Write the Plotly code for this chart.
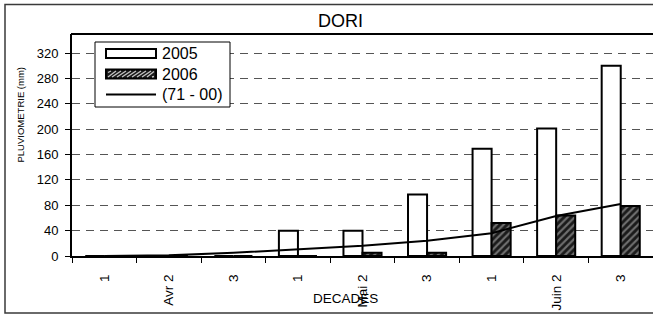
import plotly.graph_objects as go

# ---- data ----
decades = ["1", "Avr 2", "3", "1", "Mai 2", "3", "1", "Juin 2", "3"]
pluie_2005 = [0, 0, 0, 40, 40, 97, 169, 201, 300]
pluie_2006 = [0, 0, 0, 0, 5, 5, 52, 64, 79]
normale_71_00 = [0, 1, 5, 10, 16, 24, 36, 63, 82]
y_ticks = [0, 40, 80, 120, 160, 200, 240, 280, 320]

W, H = 653, 315
L, R, T, B = 72, 0, 34, 59
PW, PH = W - L - R, H - T - B
FONT = "Liberation Sans, Arial, sans-serif"

def px(x):
    return (x - L) / PW

def py(y):
    return (H - B - y) / PH

xpos = list(range(len(decades)))

fig = go.Figure()
fig.add_trace(go.Bar(
    x=xpos, y=pluie_2005, name="2005",
    marker=dict(color="white", line=dict(color="black", width=2)),
    showlegend=False,
))
fig.add_trace(go.Bar(
    x=xpos, y=pluie_2006, name="2006",
    marker=dict(color="#1a1a1a", line=dict(color="black", width=2),
                pattern=dict(shape="/", fgcolor="#c4c4c4", bgcolor="#1a1a1a",
                             size=5, solidity=0.42)),
    showlegend=False,
))
fig.add_trace(go.Scatter(
    x=xpos, y=normale_71_00, name="(71 - 00)", mode="lines",
    line=dict(color="black", width=2), showlegend=False,
))

shapes = []
# outer border
shapes.append(dict(type="rect", xref="paper", yref="paper",
                   x0=px(5), x1=px(W + 5), y0=py(313), y1=py(4.5),
                   line=dict(color="#3a3a3a", width=1.5), fillcolor="rgba(0,0,0,0)",
                   layer="above"))
# plot area top border
shapes.append(dict(type="line", xref="paper", yref="paper",
                   x0=px(L - 1), x1=px(W + 2), y0=py(34), y1=py(34),
                   line=dict(color="black", width=2), layer="above"))

# legend box
shapes.append(dict(type="rect", xref="paper", yref="paper",
                   x0=px(95), x1=px(230), y0=py(107), y1=py(42),
                   line=dict(color="black", width=1), fillcolor="white", layer="above"))
# swatch 2005
shapes.append(dict(type="rect", xref="paper", yref="paper",
                   x0=px(106), x1=px(156), y0=py(58), y1=py(49),
                   line=dict(color="black", width=2), fillcolor="white", layer="above"))
# swatch 2006
sx0, sx1, sy0, sy1 = 106, 156, 69.5, 78.5
shapes.append(dict(type="rect", xref="paper", yref="paper",
                   x0=px(sx0), x1=px(sx1), y0=py(sy1), y1=py(sy0),
                   line=dict(color="black", width=2), fillcolor="#1a1a1a", layer="above"))
h = sy1 - sy0
path = ""
x0 = sx0 - h
while x0 < sx1:
    t0 = max(0, (sx0 + 2) - x0)
    t1 = min(h, (sx1 - 2) - x0)
    if t1 > t0:
        ax, ay = x0 + t0, sy1 - t0
        bx, by = x0 + t1, sy1 - t1
        ay = min(ay, sy1 - 1.5); by = max(by, sy0 + 1.5)
        path += f"M{px(ax)},{py(ay)} L{px(bx)},{py(by)} "
    x0 += 5
shapes.append(dict(type="path", xref="paper", yref="paper", path=path,
                   line=dict(color="#c4c4c4", width=1.3), layer="above"))
# swatch line
shapes.append(dict(type="line", xref="paper", yref="paper",
                   x0=px(106), x1=px(156), y0=py(94.5), y1=py(94.5),
                   line=dict(color="black", width=2), layer="above"))

annotations = [
    dict(text="DORI", x=px(340.5), y=py(20.5), xref="paper", yref="paper",
         showarrow=False, font=dict(size=18, color="black", family=FONT),
         xanchor="center", yanchor="middle"),
    dict(text="2005", x=px(160), y=py(53.5), xref="paper", yref="paper",
         showarrow=False, font=dict(size=16, color="black", family=FONT),
         xanchor="left", yanchor="middle"),
    dict(text="2006", x=px(160), y=py(74), xref="paper", yref="paper",
         showarrow=False, font=dict(size=16, color="black", family=FONT),
         xanchor="left", yanchor="middle"),
    dict(text="(71 - 00)", x=px(160), y=py(94.5), xref="paper", yref="paper",
         showarrow=False, font=dict(size=16, color="black", family=FONT),
         xanchor="left", yanchor="middle"),
    dict(text="DECADES", x=px(345), y=py(298), xref="paper", yref="paper",
         showarrow=False, font=dict(size=13.5, color="black", family=FONT),
         xanchor="center", yanchor="middle"),
    dict(text="PLUVIOMETRIE (mm)", x=px(19.5), y=py(115), xref="paper", yref="paper",
         showarrow=False, textangle=-90, font=dict(size=9.5, color="black", family=FONT),
         xanchor="center", yanchor="middle"),
]

fig.update_layout(
    width=W, height=H,
    margin=dict(l=L, r=R, t=T, b=B, pad=0, autoexpand=False),
    paper_bgcolor="white", plot_bgcolor="white",
    barmode="group", bargap=0.41, bargroupgap=0,
    font=dict(family=FONT, color="black"),
    shapes=shapes, annotations=annotations,
    showlegend=False,
)
fig.update_xaxes(
    range=[-0.5, len(decades) - 0.5],
    tickmode="array", tickvals=xpos, ticktext=decades, tickangle=-90,
    ticks="", ticklabelstandoff=11,
    tickfont=dict(size=13.5, family=FONT, color="black"),
    showgrid=False, zeroline=False,
    showline=True, linecolor="black", linewidth=2,
    minor=dict(tickmode="array", tickvals=[i - 0.5 for i in range(len(decades))],
               ticks="outside", ticklen=5, tickwidth=1, tickcolor="black", showgrid=False),
)
fig.update_yaxes(
    range=[0, 350], tickmode="array", tickvals=y_ticks,
    ticks="outside", ticklen=5, tickwidth=1, tickcolor="black",
    ticklabelstandoff=4,
    tickfont=dict(size=13, family=FONT, color="black"),
    showgrid=True, gridcolor="#555555", gridwidth=1, griddash="8px,6px",
    zeroline=False, showline=True, linecolor="black", linewidth=2,
)

fig.write_html("out.html", config={"displayModeBar": False},
               post_script="document.body.style.margin='0';")
